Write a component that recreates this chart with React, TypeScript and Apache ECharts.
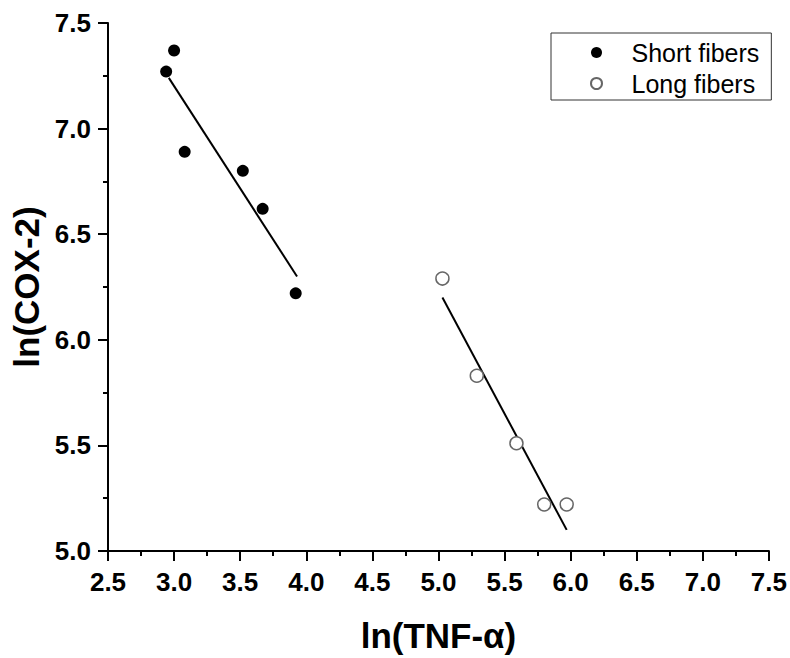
import React, { useEffect, useRef } from "react";
import * as echarts from "echarts";

const shortX = [2.94, 3.0, 3.08, 3.52, 3.67, 3.92];
const shortY = [7.27, 7.37, 6.89, 6.8, 6.62, 6.22];
const longX = [5.03, 5.29, 5.59, 5.8, 5.97];
const longY = [6.29, 5.83, 5.51, 5.22, 5.22];
const shortFitX = [2.96, 3.93];
const shortFitY = [7.24, 6.3];
const longFitX = [5.03, 5.97];
const longFitY = [6.2, 5.1];
const seriesNames = ["Short fibers", "Long fibers"];
const xTitle = "ln(TNF-\u03b1)";
const yTitle = "ln(COX-2)";

const pairs = (xs: number[], ys: number[]) => xs.map((x, i) => [x, ys[i]]);

const FONT = "'Liberation Sans', Arial, sans-serif";

export default function App() {
  const ref = useRef<HTMLDivElement>(null);
  useEffect(() => {
    if (!ref.current) return;
    const chart = echarts.init(ref.current, null, { renderer: "svg" });
    const axisCommon = {
      type: "value" as const,
      interval: 0.5,
      axisLine: { show: true, onZero: false, lineStyle: { color: "#000", width: 2 } },
      axisTick: { show: true, inside: false, length: 10, lineStyle: { color: "#000", width: 2 } },
      minorTick: { show: true, splitNumber: 2, length: 5, lineStyle: { color: "#000", width: 2 } },
      splitLine: { show: false },
      axisLabel: {
        color: "#000",
        fontFamily: FONT,
        fontWeight: "bold" as const,
        fontSize: 26,
        formatter: (v: number) => v.toFixed(1),
      },
      nameLocation: "middle" as const,
      nameTextStyle: { color: "#000", fontFamily: FONT, fontWeight: "bold" as const, fontSize: 35 },
    };
    chart.setOption({
      animation: false,
      backgroundColor: "#fff",
      grid: { left: 108, right: 21, top: 23, bottom: 105, containLabel: false },
      xAxis: {
        ...axisCommon,
        min: 2.5,
        max: 7.5,
        name: xTitle,
        nameGap: 67,
        axisLabel: { ...axisCommon.axisLabel, margin: 18 },
      },
      yAxis: {
        ...axisCommon,
        min: 5.0,
        max: 7.5,
        name: yTitle,
        nameGap: 63,
        axisLabel: { ...axisCommon.axisLabel, margin: 17 },
      },
      legend: {
        data: seriesNames,
        orient: "vertical",
        left: 551,
        top: 33,
        padding: [7, 12, 4, 39],
        itemGap: 6,
        itemWidth: 60,
        itemHeight: 11,
        borderColor: "#333",
        borderWidth: 1,
        textStyle: { fontFamily: FONT, fontSize: 25, color: "#000" },
      },
      series: [
        {
          name: "shortFit",
          type: "line",
          data: pairs(shortFitX, shortFitY),
          symbol: "none",
          lineStyle: { color: "#000", width: 2 },
          silent: true,
          z: 1,
        },
        {
          name: "longFit",
          type: "line",
          data: pairs(longFitX, longFitY),
          symbol: "none",
          lineStyle: { color: "#000", width: 2 },
          silent: true,
          z: 1,
        },
        {
          name: seriesNames[0],
          type: "scatter",
          data: pairs(shortX, shortY),
          symbol: "circle",
          symbolSize: 12,
          itemStyle: { color: "#000", opacity: 1 },
          z: 3,
        },
        {
          name: seriesNames[1],
          type: "scatter",
          data: pairs(longX, longY),
          symbol: "circle",
          symbolSize: 13,
          itemStyle: { color: "#fff", borderColor: "#666", borderWidth: 1.5, opacity: 1 },
          z: 3,
        },
      ],
    });
    return () => chart.dispose();
  }, []);
  return (
    <div
      ref={ref}
      style={{ position: "absolute", left: 0, top: 0, width: 790, height: 658 }}
    />
  );
}
